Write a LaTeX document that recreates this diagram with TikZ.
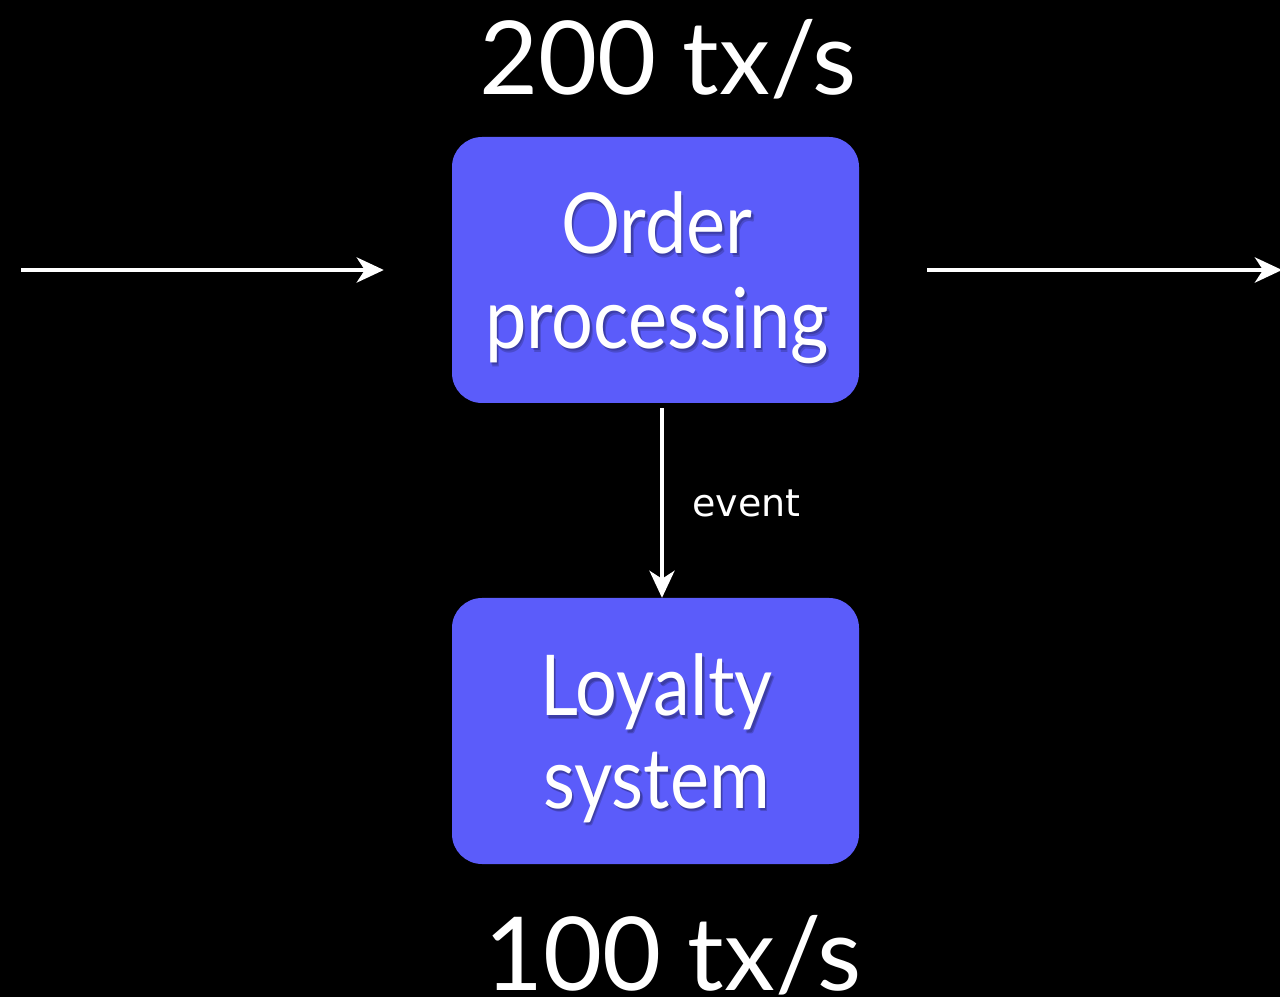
\documentclass[tikz,border=0pt]{standalone}
\usepackage{fontspec}
\setmainfont{Lato}
\newfontfamily\boxfont[FakeStretch=0.88]{Lato}
\newfontfamily\labelfont{DejaVu Sans}
\usetikzlibrary{arrows.meta}
\definecolor{boxblue}{HTML}{5B5CFA}
\tikzset{
  flow/.style={draw=white, line width=4.5pt,
    -{Stealth[length=27pt,width=25pt,inset=8pt]}},
  procbox/.style={fill=boxblue, rounded corners=30pt, inner sep=0pt,
    minimum width=407pt, minimum height=266pt},
  boxtext/.style={text=white, font=\boxfont\fontsize{84}{95}\selectfont, inner sep=0pt, anchor=base},
  boxshade/.style={text=black, opacity=0.18, font=\boxfont\fontsize{84}{95}\selectfont, inner sep=0pt, anchor=base},
  rate/.style={text=white, font=\fontsize{102}{110}\selectfont, inner sep=0pt, anchor=base},
  tag/.style={text=white, font=\labelfont\fontsize{38}{40}\selectfont, inner sep=0pt, anchor=base west}
}
\begin{document}
\begin{tikzpicture}[x=1pt, y=1pt]
  \fill[black] (0,0) rectangle (1280,997);
  \useasboundingbox (0,0) rectangle (1280,997);

  % service boxes
  \node[procbox] (op) at (655.5,727) {};
  \node[procbox] (ls) at (655.5,266) {};

  % box captions with a soft drop shadow
  \foreach \dx/\dy [count=\i] in {1.5/-2, 2.5/-3.5} {
    \node[boxshade] (opA-s\i) at (657+\dx,743+\dy) {Order};
    \node[boxshade] (opB-s\i) at (657+\dx,648+\dy) {processing};
    \node[boxshade] (lsA-s\i) at (656.5+\dx,281+\dy) {Loyalty};
    \node[boxshade] (lsB-s\i) at (656.5+\dx,189+\dy) {system};
  }
  \node[boxtext] (opA) at (657,743) {Order};
  \node[boxtext] (opB) at (657,648) {processing};
  \node[boxtext] (lsA) at (656.5,281) {Loyalty};
  \node[boxtext] (lsB) at (656.5,189) {system};

  % throughput figures
  \node[rate] (top) at (668,902) {200 tx/s};
  \node[rate] (bottom) at (673,7) {100 tx/s};

  % incoming and outgoing traffic
  \coordinate (in) at (21,727);
  \coordinate (out) at (1282,727);
  \draw[flow] (in) -- ([xshift=-68pt]op.west);
  \draw[flow] ([xshift=68pt]op.east) -- (out);

  % event from order processing to loyalty
  \draw[flow, line width=4pt] ([xshift=6.5pt,yshift=-5pt]op.south) -- ([xshift=6.5pt]ls.north);
  \node[tag] (evt) at (692,480) {event};
\end{tikzpicture}
\end{document}
